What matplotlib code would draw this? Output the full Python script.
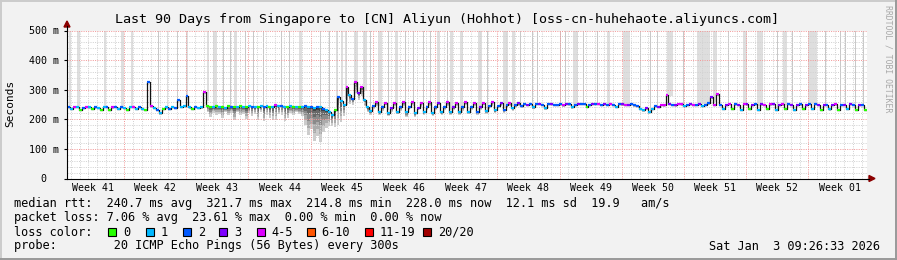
import numpy as np
import matplotlib
matplotlib.use('Agg')
import matplotlib.pyplot as plt
from matplotlib.collections import LineCollection
from matplotlib.patches import Polygon, Rectangle

plt.rcParams['font.family'] = 'DejaVu Sans Mono'

# median rtt (ms), three samples per day, 90 days
median_rtt = [
    [242, 236, 240], [241, 233, 239], [242, 240, 234], [240, 238, 232], [241, 243, 231],
    [240, 242, 234], [243, 238, 230], [242, 240, 234], [240, 236, 232], [326, 244, 238],
    [232, 220, 236], [240, 234, 242], [238, 266, 240], [246, 280, 240], [236, 242, 238],
    [240, 292, 244], [242, 240, 244], [241, 243, 239], [244, 242, 240], [242, 245, 243],
    [240, 244, 242], [243, 241, 245], [242, 246, 243], [241, 248, 244], [246, 242, 240],
    [244, 241, 243], [242, 240, 244], [243, 241, 239], [242, 240, 236], [232, 224, 216],
    [230, 274, 262], [250, 310, 282], [270, 325, 290], [308, 264, 240], [228, 244, 258],
    [224, 240, 256], [222, 238, 255], [225, 241, 257], [223, 240, 258], [221, 239, 256],
    [224, 242, 257], [222, 240, 255], [225, 243, 258], [223, 240, 256], [224, 241, 257],
    [226, 243, 256], [225, 242, 255], [228, 244, 257], [230, 246, 256], [232, 247, 255],
    [238, 250, 254], [244, 252, 250], [253, 240, 251], [252, 250, 238], [251, 253, 249],
    [250, 252, 248], [252, 251, 240], [250, 253, 252], [251, 242, 250], [253, 251, 252],
    [250, 252, 249], [252, 250, 243], [253, 251, 250], [250, 252, 248], [246, 236, 230],
    [238, 223, 236], [244, 242, 250], [248, 281, 252], [250, 248, 252], [251, 246, 250],
    [253, 249, 250], [252, 244, 250], [254, 274, 248], [284, 250, 236], [250, 252, 234],
    [251, 250, 233], [252, 251, 236], [250, 252, 232], [252, 250, 235], [251, 253, 233],
    [250, 251, 236], [252, 250, 232], [249, 251, 234], [250, 252, 235], [251, 250, 232],
    [250, 249, 234], [248, 251, 233], [250, 249, 235], [251, 250, 232], [250, 249, 233],
]

# lost pings out of 20, same samples
lost_pings = [
    [2, 1, 4], [1, 0, 2], [4, 1, 0], [2, 1, 0], [1, 2, 0], [4, 2, 1], [2, 1, 0], [1, 4, 1],
    [2, 1, 0], [2, 4, 1], [2, 1, 0], [1, 2, 1], [2, 2, 1], [1, 2, 1], [0, 2, 1], [1, 4, 0],
    [0, 1, 0], [1, 0, 1], [0, 2, 0], [1, 0, 1], [0, 1, 2], [1, 0, 1], [2, 1, 0], [1, 4, 1],
    [2, 1, 0], [1, 0, 1], [0, 1, 2], [1, 2, 1], [2, 1, 2], [1, 1, 1], [0, 2, 1], [1, 4, 1],
    [2, 4, 3], [4, 1, 1], [1, 2, 4], [1, 2, 4], [1, 3, 4], [1, 2, 4], [1, 2, 4], [1, 3, 4],
    [1, 2, 4], [1, 2, 3], [1, 2, 4], [1, 3, 4], [1, 2, 4], [1, 2, 4], [2, 3, 4], [1, 2, 4],
    [1, 2, 3], [2, 2, 4], [1, 2, 3], [2, 2, 3], [2, 1, 2], [3, 2, 1], [2, 3, 2], [2, 2, 4],
    [3, 2, 1], [2, 3, 2], [2, 0, 2], [3, 2, 4], [2, 3, 2], [4, 2, 1], [2, 3, 4], [3, 2, 2],
    [2, 1, 1], [3, 1, 1], [2, 3, 4], [4, 4, 3], [2, 3, 4], [4, 1, 2], [3, 4, 2], [3, 1, 2],
    [2, 3, 4], [4, 2, 1], [3, 4, 0], [2, 3, 1], [4, 3, 0], [3, 2, 1], [3, 4, 0], [4, 3, 1],
    [3, 4, 0], [2, 3, 1], [3, 2, 0], [3, 2, 1], [2, 3, 0], [3, 2, 1], [3, 4, 0], [2, 3, 1],
    [3, 2, 0], [3, 2, 0],
]

# how far the fastest ping sits below the median (ms)
smoke_below = [
    [3, 4, 3], [4, 3, 4], [3, 4, 3], [4, 3, 4], [3, 4, 3], [4, 3, 4], [3, 4, 3], [4, 3, 4],
    [3, 4, 3], [4, 3, 4], [3, 4, 3], [4, 3, 4], [3, 4, 3], [4, 3, 4], [3, 4, 3], [4, 6, 20],
    [34, 18, 28], [22, 38, 15], [30, 20, 44], [18, 32, 24], [38, 22, 30], [25, 44, 20],
    [48, 30, 40], [42, 50, 25], [30, 48, 35], [22, 28, 20], [25, 30, 62], [95, 75, 112],
    [100, 118, 80], [60, 45, 40], [55, 92, 70], [40, 62, 30], [20, 35, 25], [30, 20, 15],
    [12, 8, 14], [9, 12, 8], [12, 14, 9], [8, 12, 11], [14, 9, 10], [12, 8, 14], [9, 11, 12],
    [10, 9, 8], [11, 10, 12], [9, 8, 10], [10, 12, 9], [8, 10, 11], [10, 9, 8], [9, 10, 12],
    [8, 9, 10], [10, 8, 9], [9, 10, 8], [5, 4, 5], [4, 5, 4], [5, 4, 5], [4, 5, 4], [5, 4, 5],
    [4, 5, 4], [5, 4, 5], [4, 5, 4], [5, 4, 5], [4, 5, 4], [5, 4, 5], [4, 5, 4], [5, 4, 5],
    [4, 5, 4], [5, 4, 5], [4, 5, 4], [5, 4, 5], [4, 5, 4], [5, 4, 5], [4, 5, 4], [5, 4, 5],
    [4, 5, 4], [5, 4, 5], [4, 5, 4], [5, 4, 5], [4, 5, 4], [5, 4, 5], [4, 5, 4], [5, 4, 5],
    [4, 5, 4], [5, 4, 5], [4, 5, 4], [5, 4, 5], [4, 5, 4], [5, 4, 5], [4, 5, 4], [5, 4, 5],
    [4, 5, 4], [5, 4, 5],
]

# slow-ping smoke reaching past the top of the graph: start day, duration (days)
spike_day = [0.22, 1.16, 4.16, 6.04, 7.17, 10.2, 11.2, 12.34, 13.36, 15.72, 16.46, 17.52,
             18.34, 18.83, 20.02, 20.96, 22.08, 24.07, 25.0, 26.1, 28.46, 29.51, 30.26,
             30.8, 31.27, 32.33, 33.26, 34.09, 34.95, 36.08, 36.9, 38.03, 38.96, 40.01,
             40.84, 41.66, 42.71, 43.09, 44.21, 46.27, 47.21, 49.08, 50.02, 50.96, 52.28,
             52.84, 55.46, 56.02, 56.96, 58.08, 59.59, 60.72, 62.59, 64.46, 65.59, 66.34,
             67.46, 69.33, 70.84, 72.71, 74.4, 76.09, 77.59, 79.84, 80.59, 81.52, 83.4,
             85.27, 86.96, 87.52, 88.65, 89.58]
spike_len = [0.25, 0.3, 0.2, 0.37, 0.3, 0.12, 0.18, 0.12, 0.3, 0.22, 0.37, 0.12,
             0.12, 0.34, 0.12, 0.12, 0.12, 0.12, 0.12, 0.3, 0.12, 0.12, 0.2,
             0.2, 0.2, 0.45, 0.45, 0.12, 0.45, 0.12, 0.37, 0.12, 0.12, 0.12,
             0.12, 0.3, 0.12, 0.37, 0.37, 0.37, 0.12, 0.56, 0.37, 0.12, 0.12,
             0.12, 0.12, 0.12, 0.56, 0.12, 0.12, 0.37, 0.75, 0.12, 0.12, 0.12,
             0.75, 0.12, 1.5, 0.37, 0.12, 0.37, 0.75, 0.12, 0.37, 0.12, 0.94,
             0.12, 0.12, 0.12, 0.12, 0.12]

week_labels = ['Week 41', 'Week 42', 'Week 43', 'Week 44', 'Week 45', 'Week 46', 'Week 47',
               'Week 48', 'Week 49', 'Week 50', 'Week 51', 'Week 52', 'Week 01']

loss_names = ['0', '1', '2', '3', '4-5', '6-10', '11-19', '20/20']
loss_colors = ['#26ff00', '#00b8ff', '#0059ff', '#7e00ff', '#dd00ff', '#ff5500', '#ff0000', '#a10000']

title = 'Last 90 Days from Singapore to [CN] Aliyun (Hohhot) [oss-cn-huhehaote.aliyuncs.com]'
stat_lines = [
    'median rtt:  240.7 ms avg  321.7 ms max  214.8 ms min  228.0 ms now  12.1 ms sd  19.9   am/s',
    'packet loss: 7.06 % avg  23.61 % max  0.00 % min  0.00 % now',
    'loss color:',
    'probe:        20 ICMP Echo Pings (56 Bytes) every 300s',
]
stamp = 'Sat Jan  3 09:26:33 2026'


def loss_color(n):
    if n <= 3:
        return loss_colors[n]
    if n <= 5:
        return loss_colors[4]
    if n <= 10:
        return loss_colors[5]
    if n < 20:
        return loss_colors[6]
    return loss_colors[7]


med = np.ravel(median_rtt).astype(float)
lost = np.ravel(lost_pings)
below = np.ravel(smoke_below).astype(float)
step = 1 / 3
t = np.arange(len(med)) * step
te = np.append(t, t[-1] + step)
mede = np.append(med, med[-1])

W, H = 897, 260
fig = plt.figure(figsize=(W / 100, H / 100), dpi=100)
fig.patch.set_facecolor('#f2f2f2')

# pixel overlay for texts, frame and arrows
bg = fig.add_axes([0, 0, 1, 1])
bg.set_xlim(0, W)
bg.set_ylim(H, 0)
bg.axis('off')
bg.set_zorder(0)

y0, y500 = 178.5, 30.5
x0, x1 = 67, 867
ax = fig.add_axes([x0 / W, (H - y0) / H, (x1 - x0) / W, (y0 - y500) / H])
ax.set_zorder(1)
ax.set_facecolor('white')
ax.set_xlim(0, 90)
ax.set_ylim(0, 500)

# slow pings beyond the top
base = np.interp(spike_day, t + step / 2, med)
cols = ['#c8c8c8' if w < 0.15 else '#dedede' for w in spike_len]
ax.bar(spike_day, 500 - base, bottom=base, width=spike_len, align='edge',
       color=cols, linewidth=0, zorder=1)

# smoke below the median: streaks fading out with depth
shades = [(1.0, '#cccccc'), (0.75, '#ababab'), (0.5, '#8a8a8a'), (0.28, '#686868'), (0.1, '#444444')]
for k, (frac, c) in enumerate(shades):
    ax.bar(t + 0.03, frac * below, bottom=med - frac * below, width=0.28, align='edge',
           color=c, linewidth=0, zorder=1.2 + 0.05 * k)

# grid
major_x = 6.41 + 7 * np.arange(12)
minor_x = [d for d in 0.41 + np.arange(90) if np.min(np.abs(major_x - d)) > 0.3]
dots = (0, (1, 1.3))
for d in minor_x:
    ax.axvline(d, color='#d2d2d2', lw=0.72, ls=dots, zorder=2)
for v in range(20, 500, 20):
    if v % 100:
        ax.axhline(v, color='#d2d2d2', lw=0.72, ls=dots, zorder=2)
for d in major_x:
    ax.axvline(d, color='#f29a9a', lw=0.72, ls=dots, zorder=2.1)
for v in range(100, 501, 100):
    ax.axhline(v, color='#f29a9a', lw=0.72, ls=dots, zorder=2.1)

# median: dark connecting steps + loss coloured dashes
ax.step(te, mede, where='post', color='#111111', lw=0.9, zorder=3)
segs = [[(t[i], med[i]), (t[i] + step, med[i])] for i in range(len(med))]
ax.add_collection(LineCollection(segs, colors=[loss_color(n) for n in lost],
                                 linewidths=1.6, zorder=4, capstyle='butt'))

for s in ['top', 'right']:
    ax.spines[s].set_visible(False)
for s in ['left', 'bottom']:
    ax.spines[s].set_linewidth(0.8)
    ax.spines[s].set_color('black')
    ax.spines[s].set_zorder(5)

ax.set_yticks(range(0, 501, 100))
ax.set_yticklabels(['0  ', '100 m', '200 m', '300 m', '400 m', '500 m'])
ax.tick_params(axis='y', length=2, width=0.8, pad=3.5, labelsize=7.2)
ax.set_xticks(major_x[0] - 3.5 + 7 * np.arange(13))
ax.set_xticklabels(week_labels)
ax.tick_params(axis='x', length=0, pad=3.5, labelsize=7.1)

# axis arrows
bg.plot([x0, x0], [y500, 26], color='black', lw=0.8)
bg.plot([x1, 869], [y0, y0], color='black', lw=0.8)
bg.add_patch(Polygon([(64, 27), (70, 27), (67, 21)], closed=True, color='#8b0000'))
bg.add_patch(Polygon([(869, 175.5), (869, 181.5), (875, 178.5)], closed=True, color='#8b0000'))

# frame
bg.plot([0, W], [0.8, 0.8], color='#cbcbcb', lw=1.4)
bg.plot([0.8, 0.8], [0, H], color='#cbcbcb', lw=1.4)
bg.plot([0, W], [H - 0.8, H - 0.8], color='#999999', lw=1.4)
bg.plot([W - 0.8, W - 0.8], [0, H], color='#999999', lw=1.4)

bg.text(447, 19, title, ha='center', va='center', fontsize=9.6)
bg.text(10, 103, 'Seconds', rotation=90, ha='center', va='center', fontsize=8)
bg.text(888, 59, 'RRDTOOL / TOBI OETIKER', rotation=270, ha='center', va='center',
        fontsize=5.9, color='#a8a8a8')

for k, line in enumerate(stat_lines):
    bg.text(14.1, 204 + 14 * k, line, ha='left', va='center', fontsize=8.57)

box_x = [108, 145.7, 182.7, 219, 256.7, 306.7, 365, 422.7]
for bx, name, c in zip(box_x, loss_names, loss_colors):
    bg.add_patch(Rectangle((bx, 228), 8, 8, facecolor=c, edgecolor='black', lw=0.8))
    bg.text(bx + 15, 232, name, ha='left', va='center', fontsize=8.57)

bg.text(880, 246, stamp, ha='right', va='center', fontsize=8.57)

fig.savefig('out.png', dpi=100, facecolor=fig.get_facecolor())
